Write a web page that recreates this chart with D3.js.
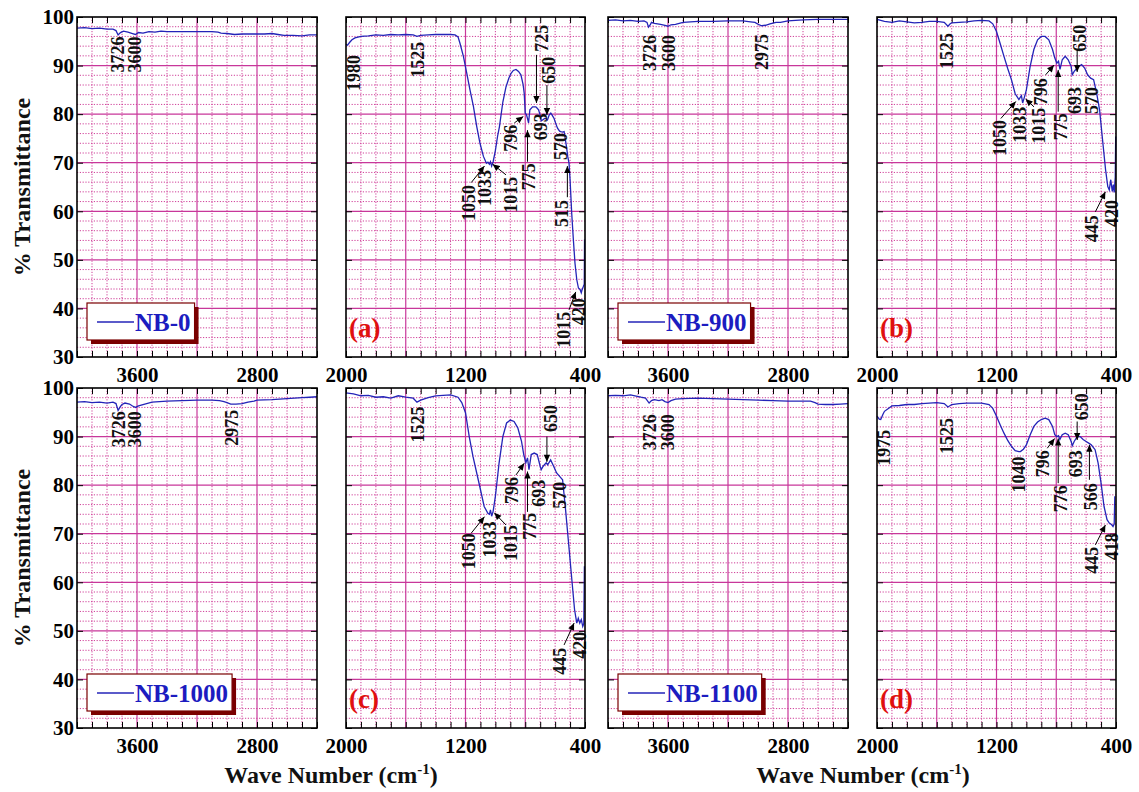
<!DOCTYPE html>
<meta charset="utf-8">
<style>
    body { margin: 0; background: #fff; }
    svg text { font-family: "Liberation Serif", "Times New Roman", serif; font-weight: bold; }
</style>
<script src="https://d3js.org/d3.v7.min.js"></script>
<svg id="chart" width="1139" height="792"></svg>
<script>
// spectra, [wave number, % transmittance]
var nb0High = [[4000,97.7],[3950,97.8],[3900,97.6],[3850,97.7],[3800,97.5],[3760,97.5],[3740,97.2],[3726,96.3],[3710,96.8],[3690,97.1],[3660,96.9],[3630,96.6],[3610,96.4],[3590,96.8],[3560,96.7],[3520,97.0],[3480,96.9],[3440,97.1],[3400,97.0],[3300,97.0],[3200,97.0],[3100,97.0],[3060,96.9],[3040,96.7],[3000,96.6],[2950,96.4],[2900,96.5],[2800,96.5],[2750,96.5],[2700,96.6],[2660,96.4],[2620,96.2],[2560,96.2],[2500,96.1],[2450,96.3],[2400,96.3]];
var nb0Low = [[2000,94.4],[1990,94.2],[1975,94.8],[1960,95.3],[1940,95.7],[1900,96.0],[1850,96.1],[1800,96.3],[1750,96.2],[1700,96.4],[1650,96.3],[1600,96.4],[1550,96.3],[1525,96.0],[1500,96.2],[1450,96.3],[1400,96.4],[1350,96.4],[1300,96.4],[1270,96.3],[1250,95.9],[1237,94.6],[1214,91.9],[1192,88.5],[1170,85],[1147,81.6],[1125,77.5],[1103,74],[1080,71.3],[1060,69.9],[1050,70.1],[1040,69.7],[1033,70.2],[1025,69.3],[1015,70.2],[1000,72.5],[985,75.5],[973,77.4],[950,82.5],[929,85.6],[910,87.4],[895,88.4],[880,89.0],[862,89.2],[845,88.8],[829,88.1],[815,86.2],[807,84.3],[800,80.2],[792,79.9],[785,79.1],[778,78.2],[769,80.9],[751,81.5],[729,81.5],[720,81.2],[711,80.9],[700,79.8],[693,78.6],[684,78.8],[670,79.1],[662,79.1],[651,78.8],[640,79.8],[629,80.2],[618,79.7],[607,79.1],[595,78.0],[584,77.1],[570,76.5],[562,76.4],[550,76.3],[540,76.4],[530,74.5],[524,73.3],[515,71.2],[507,69.9],[500,66.5],[489,59.6],[478,54.2],[467,49.3],[455,45.9],[444,44.2],[433,43.9],[425,43.2],[420,43.8],[411,44.5],[405,45],[403,54.2]];

var nb900High = [[4000,99.3],[3950,99.4],[3900,99.2],[3850,99.3],[3800,99.1],[3760,99.2],[3740,98.9],[3730,97.9],[3720,98.3],[3710,98.9],[3690,98.7],[3670,98.6],[3650,98.5],[3620,98.3],[3600,98.1],[3580,98.4],[3550,98.5],[3500,98.9],[3450,99.0],[3400,99.1],[3300,99.1],[3200,99.2],[3100,99.2],[3050,99.0],[3020,98.9],[3000,98.5],[2975,98.2],[2950,98.3],[2920,98.6],[2880,98.9],[2850,98.9],[2800,99.2],[2700,99.4],[2600,99.5],[2500,99.5],[2400,99.5]];
var nb900Low = [[2000,99.5],[1950,99.1],[1900,98.9],[1850,99.2],[1800,99.0],[1750,98.8],[1700,98.9],[1650,99.1],[1600,99.1],[1550,98.9],[1525,98.1],[1510,98.6],[1500,98.8],[1450,98.9],[1400,99.0],[1350,99.2],[1300,99.3],[1250,99.2],[1225,98.6],[1200,97],[1175,94.5],[1150,91.9],[1125,89.4],[1100,87.1],[1075,84.2],[1050,83],[1040,83.5],[1033,83.8],[1025,82.3],[1015,83.3],[1000,85],[975,89.8],[950,93.3],[925,95.3],[900,96],[875,96],[850,95.3],[825,93.3],[810,91.6],[796,90.5],[785,90.9],[775,89.2],[760,91.2],[740,91.9],[720,91.2],[700,89.8],[693,88.1],[680,88.8],[660,89.5],[650,89.8],[630,90.2],[610,89.5],[590,88.1],[570,87.4],[550,87.1],[530,84.4],[510,80.9],[490,74.7],[470,68.6],[455,65.1],[445,64.4],[435,66.5],[425,64.1],[418,65.5],[412,63.9],[405,67],[402,75.4]];

var nb1000High = [[4000,97.1],[3950,97.2],[3900,97.0],[3850,97.1],[3800,96.9],[3760,97.1],[3740,96.8],[3726,95.4],[3710,96.2],[3700,96.6],[3680,96.9],[3650,96.7],[3630,96.3],[3610,96.0],[3590,96.3],[3560,96.6],[3500,97.1],[3450,97.2],[3400,97.3],[3300,97.4],[3200,97.5],[3100,97.5],[3050,97.4],[3020,97.2],[3000,97.0],[2975,96.7],[2940,96.7],[2900,96.8],[2860,97.1],[2820,97.3],[2800,97.5],[2700,97.6],[2600,97.8],[2500,98.0],[2450,98.1],[2400,98.2]];
var nb1000Low = [[2000,99],[1950,98.8],[1900,98.4],[1850,98.5],[1800,98.1],[1750,98.2],[1700,97.9],[1650,98.4],[1600,98.1],[1550,97.9],[1525,97.1],[1500,97.5],[1450,98.0],[1400,98.4],[1350,98.5],[1300,98.6],[1250,98.1],[1225,97],[1200,94.9],[1175,90],[1150,85.9],[1125,82.5],[1100,79.1],[1075,75.6],[1050,74.2],[1040,74.0],[1033,74.9],[1025,73.6],[1015,74.6],[1000,77.7],[975,84.6],[950,90],[925,92.8],[900,93.4],[875,93.1],[850,91.8],[825,89],[810,86.3],[796,84.6],[785,85.6],[775,83.2],[760,86.3],[740,86.6],[720,86.3],[700,83.9],[693,83.2],[680,83.9],[660,84.6],[650,84.2],[630,85.2],[610,83.9],[590,82.5],[570,81.8],[550,81.1],[530,74.9],[510,68.1],[490,61.2],[470,54.4],[455,51.6],[445,52.6],[435,51.6],[425,52.3],[415,50.9],[408,51.5],[404,63.3]];

var nb1100High = [[4000,98.4],[3950,98.5],[3900,98.4],[3850,98.6],[3820,98.4],[3780,98.1],[3750,97.9],[3726,96.9],[3710,97.4],[3690,97.6],[3660,97.4],[3640,97.6],[3620,97.2],[3600,97.0],[3580,97.4],[3550,97.7],[3500,97.8],[3400,97.9],[3300,97.8],[3200,97.7],[3100,97.6],[3000,97.5],[2900,97.4],[2800,97.3],[2700,97.3],[2650,97.3],[2620,97.0],[2600,96.7],[2550,96.6],[2500,96.6],[2450,96.7],[2400,96.8]];
var nb1100Low = [[2000,94.2],[1985,93.6],[1975,93.5],[1960,94.6],[1950,95.2],[1900,96.3],[1850,96.4],[1800,96.6],[1750,96.6],[1700,96.8],[1650,96.9],[1600,97],[1550,96.8],[1525,96.1],[1500,96.6],[1450,96.8],[1400,96.9],[1350,96.9],[1300,96.9],[1250,96.6],[1225,95.8],[1200,94.2],[1175,92.4],[1150,90.7],[1125,89.2],[1100,88],[1075,87.1],[1050,86.9],[1040,86.9],[1020,87.4],[1000,88.3],[975,90.3],[950,92.1],[925,93.0],[900,93.5],[875,93.8],[850,93.5],[825,92.1],[810,90.4],[796,90],[785,90.2],[776,89.4],[760,90.4],[740,90.7],[720,90.4],[700,89],[693,88.1],[680,89],[660,90],[640,90],[620,89.4],[600,89],[580,88.6],[566,88.3],[540,87.3],[520,84.6],[500,80.4],[480,75.6],[460,72.9],[445,72.2],[430,71.9],[420,71.5],[412,72],[408,77.7]];

// peak labels: text, wave number / transmittance of the top end, optional arrow [x1,y1,x2,y2]
var notesNb0High = [{t:"3726",x:3727,y:96},{t:"3600",x:3613,y:96}];
var notesNb0Low = [
    {t:"1980",x:1951,y:92.2},{t:"1525",x:1520,y:94.9},
    {t:"1050",x:1180,y:65.4,arrow:[1162,65.9,1073,69.3]},
    {t:"1033",x:1069,y:68.5},
    {t:"1015",x:895,y:67.1,arrow:[929,67.5,1018,69.7]},
    {t:"796",x:895,y:77.8,arrow:[873,78.2,813,79.5]},
    {t:"775",x:780,y:69.9,arrow:[785,70.2,785,76.7]},
    {t:"725",x:689,y:98.4,arrow:[725,92.2,725,82.3]},
    {t:"650",x:640,y:91.8,arrow:[655,86,655,79.8]},
    {t:"693",x:695,y:80.2},{t:"570",x:562,y:76.1},
    {t:"515",x:555,y:62.3,arrow:[518,62.9,518,69.3]},
    {t:"1015",x:540,y:39.3,arrow:[507,39.7,462,43.4]},
    {t:"420",x:445,y:42.1}
];
var notesNb900High = [{t:"3726",x:3720,y:96.3},{t:"3600",x:3598,y:96.3},{t:"2975",x:2975,y:96.5}];
var notesNb900Low = [
    {t:"1525",x:1531,y:96.7},
    {t:"1050",x:1182,y:78.8,arrow:[1171,79.1,1071,82.6]},
    {t:"1033",x:1045,y:81.5},
    {t:"1015",x:915,y:81.3,arrow:[949,81.5,1005,83.1]},
    {t:"796",x:905,y:87.4,arrow:[871,88.1,815,90.1]},
    {t:"775",x:771,y:80.2,arrow:[787,80.5,787,89.1]},
    {t:"693",x:678,y:85.6},
    {t:"650",x:642,y:98.4,arrow:[660,93.2,660,88.7]},
    {t:"570",x:565,y:85.6},
    {t:"445",x:560,y:59.2,arrow:[538,59.9,471,64]},
    {t:"420",x:431,y:62.3}
];
var notesNb1000High = [{t:"3726",x:3725,y:95.2},{t:"3600",x:3613,y:95.2},{t:"2975",x:2969,y:95.5}];
var notesNb1000Low = [
    {t:"1525",x:1518,y:96.2},
    {t:"1050",x:1180,y:70.1,arrow:[1162,70.1,1073,73.5]},
    {t:"1033",x:1035,y:72.5},
    {t:"1015",x:895,y:71.8,arrow:[929,71.8,1007,74.3]},
    {t:"796",x:889,y:81.7,arrow:[862,82.1,807,84.5]},
    {t:"775",x:773,y:74.3,arrow:[785,74.5,785,82.8]},
    {t:"693",x:707,y:81.1},
    {t:"650",x:629,y:96.5,arrow:[655,90,655,84.8]},
    {t:"570",x:569,y:80.7},
    {t:"445",x:569,y:46.5,arrow:[540,47.1,473,51.6]},
    {t:"420",x:435,y:49.8}
];
var notesNb1100High = [{t:"3726",x:3720,y:94.6},{t:"3600",x:3604,y:94.6}];
var notesNb1100Low = [
    {t:"1975",x:1953,y:91.4},{t:"1525",x:1531,y:93.8},{t:"1040",x:1049,y:85.9},
    {t:"796",x:893,y:87.2,arrow:[860,87.6,811,89.6]},
    {t:"776",x:771,y:80,arrow:[787,80.4,787,89.6]},
    {t:"693",x:671,y:87.2},
    {t:"650",x:627,y:98.9,arrow:[660,93.1,660,89.3]},
    {t:"566",x:571,y:80.4,arrow:[578,81.1,578,88.3]},
    {t:"445",x:560,y:67.3,arrow:[538,67.7,471,71.8]},
    {t:"418",x:427,y:70.1}
];

var samples = ["NB-0", "NB-900", "NB-1000", "NB-1100"];
var letters = ["(a)", "(b)", "(c)", "(d)"];
var highTickLabels = [3600, 2800];
var lowTickLabels = [2000, 1200, 400];
var yTicks = [30, 40, 50, 60, 70, 80, 90, 100];

var svg = d3.select("#chart");
var plotH = 340;
var gridMajor = "#c8379a", gridMinor = "#cf3f98";

svg.append("defs").append("marker")
    .attr("id", "arrowhead")
    .attr("viewBox", "0 0 10 10")
    .attr("refX", 10).attr("refY", 5)
    .attr("markerWidth", 8).attr("markerHeight", 7)
    .attr("markerUnits", "userSpaceOnUse")
    .attr("orient", "auto")
    .append("path").attr("d", "M0,0.5L10,5L0,9.5Z").attr("fill", "#000");

// one entry per sample: left (high wave number) and right (low) panel
var blocks = [
    {high: nb0High, low: nb0Low, nh: notesNb0High, nl: notesNb0Low, left: 77, top: 17, yLabels: true},
    {high: nb900High, low: nb900Low, nh: notesNb900High, nl: notesNb900Low, left: 608, top: 17, yLabels: false},
    {high: nb1000High, low: nb1000Low, nh: notesNb1000High, nl: notesNb1000Low, left: 77, top: 388, yLabels: true},
    {high: nb1100High, low: nb1100Low, nh: notesNb1100High, nl: notesNb1100Low, left: 608, top: 388, yLabels: false}
];

function drawPanel(data, notes, domain, left, width, top, tickLabels, yLabels) {
    var x = d3.scaleLinear().domain(domain).range([left, left + width]);
    var y = d3.scaleLinear().domain([30, 100]).range([top + plotH, top]);
    var lo = Math.min(domain[0], domain[1]), hi = Math.max(domain[0], domain[1]);
    var g = svg.append("g");

    g.append("rect").attr("x", left).attr("y", top).attr("width", width).attr("height", plotH).attr("fill", "#fff");

    // dotted minor grid
    var xMinor = d3.range(lo + 100, hi, 100).filter(function(d) { return d % 400 !== 0; });
    var yMinor = d3.range(32, 100, 2).filter(function(d) { return d % 10 !== 0; });
    g.selectAll(".vminor").data(xMinor).enter().append("line")
        .attr("x1", x).attr("x2", x).attr("y1", top).attr("y2", top + plotH)
        .attr("stroke", gridMinor).attr("stroke-width", 1).attr("stroke-dasharray", "1.2,1.6");
    g.selectAll(".hminor").data(yMinor).enter().append("line")
        .attr("x1", left).attr("x2", left + width).attr("y1", y).attr("y2", y)
        .attr("stroke", gridMinor).attr("stroke-width", 1).attr("stroke-dasharray", "1.2,1.6");
    // solid major grid
    var xMajor = d3.range(lo + 100, hi, 100).filter(function(d) { return d % 400 === 0; });
    g.selectAll(".vmajor").data(xMajor).enter().append("line")
        .attr("x1", x).attr("x2", x).attr("y1", top).attr("y2", top + plotH)
        .attr("stroke", gridMajor).attr("stroke-width", 1.2);
    g.selectAll(".hmajor").data(d3.range(40, 100, 10)).enter().append("line")
        .attr("x1", left).attr("x2", left + width).attr("y1", y).attr("y2", y)
        .attr("stroke", gridMajor).attr("stroke-width", 1.2);

    // axes with inward ticks
    var xTicks = d3.range(lo, hi + 1, 100);
    var bottom = g.append("g").attr("transform", "translate(0," + (top + plotH) + ")")
        .call(d3.axisBottom(x).tickValues(xTicks).tickSize(-6).tickPadding(10)
            .tickFormat(function(d) { return tickLabels.indexOf(d) >= 0 ? d : ""; }));
    g.append("g").attr("transform", "translate(0," + top + ")")
        .call(d3.axisTop(x).tickValues(xTicks).tickSize(-6).tickFormat(""));
    var leftAxis = g.append("g").attr("transform", "translate(" + left + ",0)")
        .call(d3.axisLeft(y).tickValues(yTicks).tickSize(-6).tickPadding(3)
            .tickFormat(function(d) { return yLabels ? d : ""; }));
    g.append("g").attr("transform", "translate(" + (left + width) + ",0)")
        .call(d3.axisRight(y).tickValues(yTicks).tickSize(-6).tickFormat(""));
    g.selectAll(".domain").remove();
    g.selectAll(".tick line").attr("stroke", "#000").attr("stroke-width", 1);
    bottom.selectAll("text").style("font-size", "21px").attr("fill", "#000");
    leftAxis.selectAll("text").style("font-size", "21px").attr("fill", "#000");

    // spectrum
    var line = d3.line().x(function(d) { return x(d[0]); }).y(function(d) { return y(d[1]); });
    g.append("path").datum(data).attr("d", line)
        .attr("fill", "none").attr("stroke", "#2424b8").attr("stroke-width", 1.3);

    // peak labels
    notes.forEach(function(n) {
        g.append("text")
            .attr("transform", "translate(" + x(n.x) + "," + y(n.y) + ") rotate(-90)")
            .attr("text-anchor", "end").attr("dy", "0.35em")
            .style("font-size", "18px").attr("fill", "#111")
            .text(n.t);
        if (n.arrow) {
            g.append("line")
                .attr("x1", x(n.arrow[0])).attr("y1", y(n.arrow[1]))
                .attr("x2", x(n.arrow[2])).attr("y2", y(n.arrow[3]))
                .attr("stroke", "#000").attr("stroke-width", 1)
                .attr("marker-end", "url(#arrowhead)");
        }
    });

    // frame
    g.append("rect").attr("x", left).attr("y", top).attr("width", width).attr("height", plotH)
        .attr("fill", "none").attr("stroke", "#000").attr("stroke-width", 1.6);
    return g;
}

blocks.forEach(function(b, i) {
    var gHigh = drawPanel(b.high, b.nh, [4000, 2400], b.left, 240, b.top, highTickLabels, b.yLabels);
    var gLow = drawPanel(b.low, b.nl, [2000, 400], b.left + 269, 239, b.top, lowTickLabels, false);

    // legend box with shadow
    var lx = b.left + 10, ly = b.top + plotH - 54;
    var lg = gHigh.append("g");
    var label = lg.append("text").attr("x", lx + 48).attr("y", ly + 28)
        .style("font-size", "25px").attr("fill", "#1c1cc0").text(samples[i]);
    var w = label.node().getComputedTextLength() + 52;
    lg.insert("rect", "text").attr("x", lx + 4).attr("y", ly + 4).attr("width", w).attr("height", 37).attr("fill", "#7a0000");
    lg.insert("rect", "text").attr("x", lx).attr("y", ly).attr("width", w).attr("height", 37)
        .attr("fill", "#fff").attr("stroke", "#7a0000").attr("stroke-width", 1.2);
    lg.append("line").attr("x1", lx + 10).attr("x2", lx + 47).attr("y1", ly + 19).attr("y2", ly + 19)
        .attr("stroke", "#2424b8").attr("stroke-width", 1.3);

    gLow.append("text").attr("x", b.left + 272).attr("y", b.top + plotH - 20)
        .style("font-size", "27px").attr("fill", "#e01010").text(letters[i]);
});

// axis titles
[187, 558].forEach(function(cy) {
    svg.append("text").attr("transform", "translate(22," + cy + ") rotate(-90)")
        .attr("text-anchor", "middle").attr("dy", "0.35em")
        .style("font-size", "24px").attr("fill", "#111").text("% Transmittance");
});
[331, 863].forEach(function(cx) {
    var t = svg.append("text").attr("x", cx).attr("y", 783).attr("text-anchor", "middle")
        .style("font-size", "24px").attr("fill", "#111");
    t.append("tspan").text("Wave Number (cm");
    t.append("tspan").attr("dy", -9).style("font-size", "15px").text("-1");
    t.append("tspan").attr("dy", 9).text(")");
});
</script>
